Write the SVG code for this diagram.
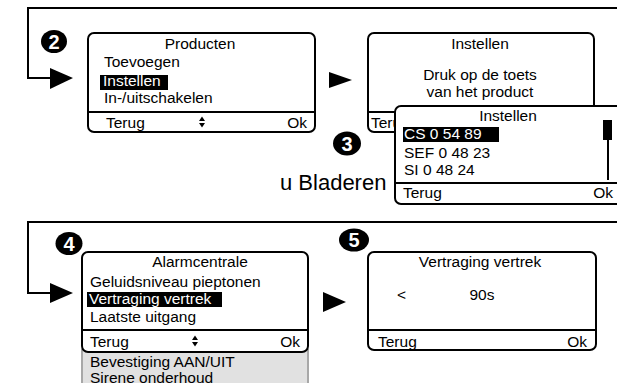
<svg xmlns="http://www.w3.org/2000/svg" width="617" height="383" viewBox="0 0 617 383">
<defs>
<style>
text{font-family:"Liberation Sans",Arial,sans-serif;font-size:15.5px;fill:#000}
.box{fill:#fff;stroke:#000;stroke-width:2}
.sep{stroke:#000;stroke-width:2}
.ln{fill:none;stroke:#000;stroke-width:2}
.hl{fill:#000}
.w{fill:#fff}
.num{fill:#fff;font-weight:bold;font-size:20px;text-anchor:middle}
.c{text-anchor:middle}
.r{text-anchor:end}
</style>
</defs>
<rect width="617" height="383" fill="#fff"/>
<g id="connectors">
<polyline class="ln" points="617,8 28,8 28,78 52,78"/>
<polygon points="50,68 73,78 50,89"/>
<polygon points="329,72 352,80 329,88"/>
<polyline class="ln" points="617,222 28,222 28,293 52,293"/>
<polygon points="50,283 73,293 50,303"/>
<polygon points="323,292 346,302 323,312"/>
</g>
<g id="step2">
<ellipse cx="54" cy="41.5" rx="13" ry="11.5"/>
<text class="num" x="54" y="48.5">2</text>
</g>
<g id="screen-producten">
<rect class="box" x="88" y="33" width="227" height="99" rx="6"/>
<line class="sep" x1="88" y1="112" x2="315" y2="112"/>
<text class="c" x="200" y="49">Producten</text>
<text x="104" y="67">Toevoegen</text>
<rect class="hl" x="100" y="75" width="68" height="15"/>
<text class="w" x="103" y="86">Instellen</text>
<text x="104" y="103">In-/uitschakelen</text>
<text x="106" y="128">Terug</text>
<polygon points="199,121 202,116.5 205,121"/>
<polygon points="199,123 202,127.5 205,123"/>
<text class="r" x="307" y="128">Ok</text>
</g>
<g id="screen-instellen1">
<rect class="box" x="368" y="33" width="226" height="99" rx="6"/>
<line class="sep" x1="368" y1="112" x2="594" y2="112"/>
<text class="c" x="480" y="49">Instellen</text>
<text class="c" x="480" y="80">Druk op de toets</text>
<text class="c" x="480" y="97">van het product</text>
<text x="371" y="128">Terug</text>
</g>
<g id="step3">
<ellipse cx="347" cy="143.5" rx="14" ry="12"/>
<text class="num" x="347" y="150.5">3</text>
</g>
<g id="label-bladeren">
<text x="280" y="190" style="font-size:22px">u Bladeren</text>
</g>
<g id="screen-instellen2">
<rect class="box" x="395" y="106" width="230" height="98" rx="6"/>
<line class="sep" x1="395" y1="183" x2="617" y2="183"/>
<text class="c" x="508" y="121">Instellen</text>
<rect class="hl" x="403" y="127" width="96" height="15"/>
<text class="w" x="404" y="139">CS 0 54 89</text>
<text x="404" y="158">SEF 0 48 23</text>
<text x="404" y="175">SI 0 48 24</text>
<rect class="hl" x="603" y="120" width="9" height="20"/>
<line x1="608" y1="140" x2="608" y2="180" stroke="#000" stroke-width="2"/>
<text x="403" y="198">Terug</text>
<text class="r" x="613" y="198">Ok</text>
</g>
<g id="step4">
<ellipse cx="69" cy="243.5" rx="13.5" ry="11.5"/>
<text class="num" x="69" y="250.5">4</text>
</g>
<g id="screen-alarmcentrale">
<rect x="82" y="350" width="226" height="40" fill="#e1e1e1" stroke="#a8a8a8" stroke-width="2"/>
<text x="90" y="367" fill="#111">Bevestiging AAN/UIT</text>
<text x="90" y="383" fill="#111">Sirene onderhoud</text>
<rect class="box" x="82" y="252" width="226" height="100" rx="6"/>
<line class="sep" x1="82" y1="330" x2="308" y2="330"/>
<text class="c" x="200" y="267">Alarmcentrale</text>
<text x="90" y="287">Geluidsniveau pieptonen</text>
<rect class="hl" x="87" y="292" width="135" height="15"/>
<text class="w" x="89" y="304">Vertraging vertrek</text>
<text x="90" y="322">Laatste uitgang</text>
<text x="90" y="347">Terug</text>
<polygon points="192,340 195,335.5 198,340"/>
<polygon points="192,342 195,346.5 198,342"/>
<text class="r" x="300" y="347">Ok</text>
</g>
<g id="step5">
<ellipse cx="354" cy="240" rx="15" ry="11.5"/>
<text class="num" x="354" y="247">5</text>
</g>
<g id="screen-vertraging">
<rect class="box" x="368" y="252" width="228" height="98" rx="6"/>
<line class="sep" x1="368" y1="330" x2="596" y2="330"/>
<text class="c" x="480" y="267">Vertraging vertrek</text>
<text x="397" y="300">&lt;</text>
<text class="c" x="482" y="300">90s</text>
<text x="378" y="347">Terug</text>
<text class="r" x="587" y="347">Ok</text>
</g>
</svg>
